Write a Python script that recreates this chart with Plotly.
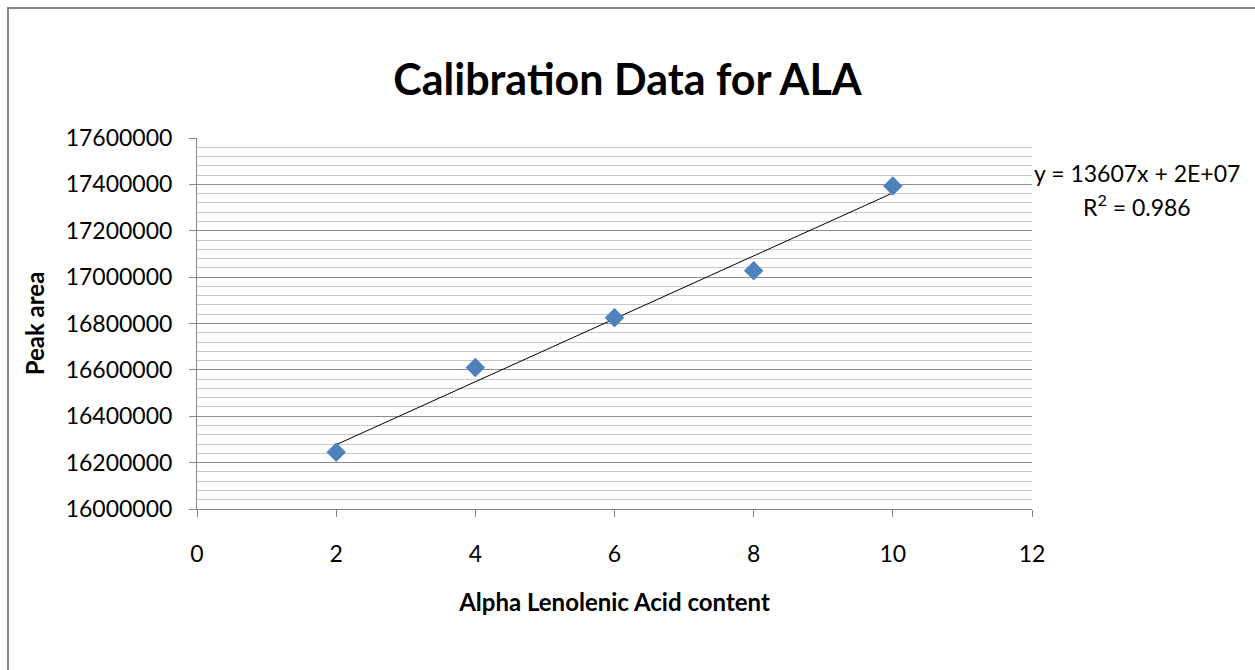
import numpy as np
import plotly.graph_objects as go

ala_content = [2, 4, 6, 8, 10]
peak_area = [16245000, 16610000, 16825000, 17028000, 17393000]
x_ticks = [0, 2, 4, 6, 8, 10, 12]
y_ticks = [16000000, 16200000, 16400000, 16600000, 16800000, 17000000, 17200000, 17400000, 17600000]

slope, intercept = np.polyfit(ala_content, peak_area, 1)
fit_x = [min(ala_content), max(ala_content)]
fit_y = [slope * v + intercept for v in fit_x]

FONT = "Lato"
W, H = 1255, 670
L, R, T, B = 197, 223, 138, 161
pw, ph = W - L - R, H - T - B

fig = go.Figure()
fig.add_trace(go.Scatter(x=fit_x, y=fit_y, mode="lines",
                         line=dict(color="#000000", width=1), hoverinfo="skip", showlegend=False))
fig.add_trace(go.Scatter(x=ala_content, y=peak_area, mode="markers",
                         marker=dict(symbol="diamond", size=15, color="#4F81BD", line=dict(width=0)),
                         showlegend=False))

fig.update_layout(
    width=W, height=H,
    margin=dict(l=L, r=R, t=T, b=B),
    paper_bgcolor="white", plot_bgcolor="white",
    font=dict(family=FONT, color="#000000"),
    title=dict(text="<b>Calibration Data for ALA</b>", x=0.5, xanchor="center",
               y=1 - 80 / H, yanchor="middle", font=dict(size=43, family=FONT)),
    xaxis=dict(range=[0, 12], tickvals=x_ticks, ticktext=[str(v) for v in x_ticks],
               showgrid=False, zeroline=False, showline=True, linecolor="#868686", linewidth=1,
               ticks="outside", ticklen=7, tickcolor="#868686", tickfont=dict(size=23, family=FONT),
               ticklabelstandoff=17,
               title=dict(text="<b>Alpha Lenolenic Acid content</b>", font=dict(size=24, family=FONT), standoff=28)),
    yaxis=dict(range=[16000000, 17600000], tickvals=y_ticks, ticktext=[str(v) for v in y_ticks],
               showgrid=True, gridcolor="#8C8C8C", gridwidth=1,
               minor=dict(dtick=40000, showgrid=True, gridcolor="#C8C8C8", gridwidth=1, ticks=""),
               zeroline=False, showline=True, linecolor="#868686", linewidth=1,
               ticks="outside", ticklen=7, tickcolor="#868686", tickfont=dict(size=23, family=FONT),
               ticklabelstandoff=12,
               title=dict(text="<b>Peak area</b>", font=dict(size=24, family=FONT), standoff=14)),
)

fig.add_annotation(xref="paper", yref="paper", x=(1137 - L) / pw, y=1 - (173 - T) / ph,
                   text="y = 13607x + 2E+07", showarrow=False, xanchor="center", yanchor="middle",
                   font=dict(size=23, family=FONT))
fig.add_annotation(xref="paper", yref="paper", x=(1137 - L) / pw, y=1 - (205 - T) / ph,
                   text="R<sup>2</sup> = 0.986", showarrow=False, xanchor="center", yanchor="middle",
                   font=dict(size=23, family=FONT))

fig.add_shape(type="rect", xref="paper", yref="paper",
              x0=(8 - L) / pw, x1=(W + 5 - L) / pw, y0=1 - (H + 5 - T) / ph, y1=1 - (8 - T) / ph,
              line=dict(color="#868686", width=2), fillcolor="rgba(0,0,0,0)", layer="below")

fig.write_html("out.html")
